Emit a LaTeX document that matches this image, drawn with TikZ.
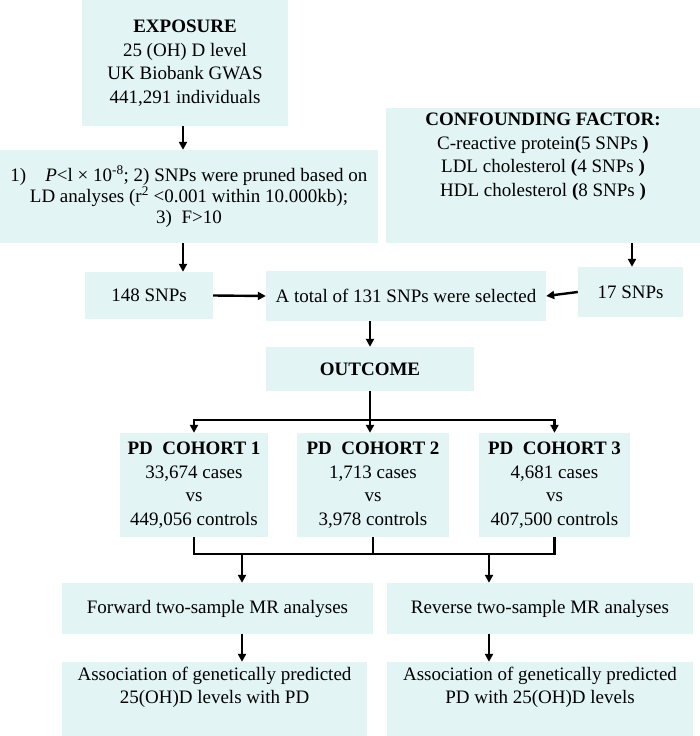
\documentclass[tikz,border=0pt]{standalone}
\usepackage{fontspec}
\setmainfont{Liberation Serif}
\usetikzlibrary{arrows.meta,calc}
\definecolor{boxfill}{HTML}{E2F4F4}

\begin{document}
\begin{tikzpicture}[x=1pt,y=-1pt,
	box/.style={fill=boxfill, align=center, inner sep=0pt, font=\fontsize{19}{23.5}\selectfont},
	arr/.style={-{Triangle[length=8pt,width=8pt]}, line width=2.4pt},
	ln/.style={line width=2.4pt}]
	\useasboundingbox (0,0) rectangle (700,736);
	% top row
	\node[box, minimum width=206pt, minimum height=126pt] (expo) at (185,63) {\textbf{EXPOSURE}\\25 (OH) D level\\UK Biobank GWAS\\441,291 individuals};
	\node[box, minimum width=378pt, minimum height=93pt, font=\fontsize{19}{21}\selectfont] (crit) at (189,196.5) {1)\quad $\textit{P}$<l × 10\textsuperscript{-8}; 2) SNPs were pruned based on\\LD analyses (r\textsuperscript{2} <0.001 within 10.000kb);\\3)\ \ F>10};
	\node[box, minimum width=314pt, minimum height=135pt] (conf) at (543,175.5) {\textbf{CONFOUNDING FACTOR:}\\C-reactive protein\textbf{(}5 SNPs \textbf{)}\\LDL cholesterol \textbf{(}4 SNPs \textbf{)}\\HDL cholesterol \textbf{(}8 SNPs \textbf{)}\\[18pt]};
	% selected SNPs
	\node[box, minimum width=128pt, minimum height=47pt] (snpA) at (149,295.5) {148 SNPs};
	\node[box, minimum width=280pt, minimum height=50pt] (total) at (406,296) {A total of 131 SNPs were selected};
	\node[box, minimum width=105pt, minimum height=50pt] (snpB) at (630.5,292) {17 SNPs};
	\node[box, minimum width=208pt, minimum height=44pt] (outc) at (370,369) {\textbf{OUTCOME}};
	% cohorts
	\node[box, minimum width=148pt, minimum height=104pt] (coh1) at (194,485) {\textbf{PD\ \ COHORT 1}\\33,674 cases\\vs\\449,056 controls};
	\node[box, minimum width=152pt, minimum height=104pt] (coh2) at (373,485) {\textbf{PD\ \ COHORT 2}\\1,713 cases\\vs\\3,978 controls};
	\node[box, minimum width=151pt, minimum height=104pt] (coh3) at (554.5,485) {\textbf{PD\ \ COHORT 3}\\4,681 cases\\vs\\407,500 controls};
	% MR analyses
	\node[box, minimum width=311pt, minimum height=51pt] (fwd) at (217.5,608.5) {Forward two-sample MR analyses};
	\node[box, minimum width=306pt, minimum height=51pt] (rev) at (540,608.5) {Reverse two-sample MR analyses};
	\node[box, minimum width=305pt, minimum height=78pt] (resA) at (214.5,701) {Association of genetically predicted\\25(OH)D levels with PD\\[8pt]};
	\node[box, minimum width=306pt, minimum height=78pt] (resB) at (540,701) {Association of genetically predicted\\PD with 25(OH)D levels\\[8pt]};

	\coordinate (split) at (370,420);
	\coordinate (merge) at (376,554);
	\coordinate (mA) at (242,554);
	\coordinate (mB) at (489,554);

	\draw[arr] (expo.south -| 183,0) -- (crit.north -| 183,0);
	\draw[arr] (crit.south -| 183,0) -- (snpA.north -| 183,0);
	\draw[arr] (conf.south -| 632,0) -- (snpB.north -| 632,0);
	\draw[arr] (snpA.east) -- (total.west);
	\draw[arr] (snpB.west) -- (total.east);
	\draw[arr] (split |- total.south) -- (split |- outc.north);
	\draw[ln] (split |- outc.south) -- (split);
	\draw[arr] (split) -| (coh1.north);
	\draw[arr] (split) -| (coh3.north);
	\draw[arr] (split) -- (split |- coh2.north);
	\draw[ln] (coh1.south) |- (coh3.south |- merge) -- (coh3.south);
	\draw[ln] (merge -| coh2.south) -- (coh2.south);
	\draw[arr] (mA) -- (mA |- fwd.north);
	\draw[arr] (mB) -- (mB |- rev.north);
	\draw[arr] (mA |- fwd.south) -- (mA |- resA.north);
	\draw[arr] (mB |- rev.south) -- (mB |- resB.north);
\end{tikzpicture}
\end{document}
